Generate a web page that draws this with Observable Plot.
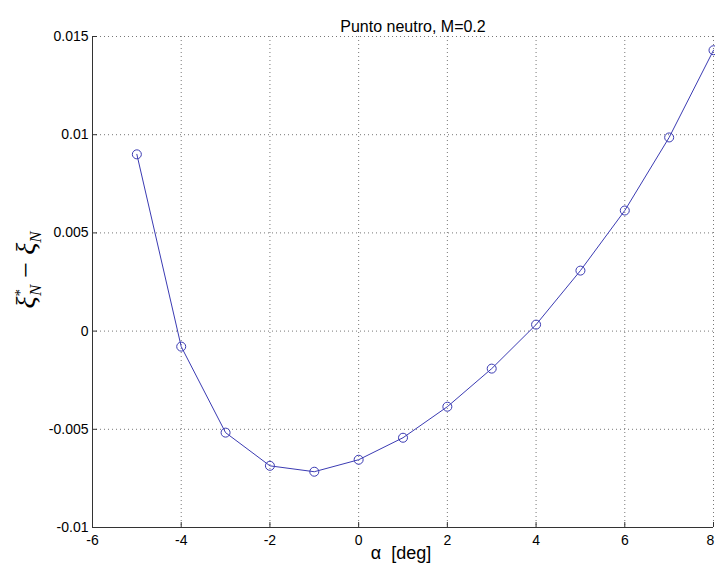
<!DOCTYPE html>
<html>
<head>
<meta charset="utf-8">
<script src="https://cdn.jsdelivr.net/npm/d3@7"></script>
<script src="https://cdn.jsdelivr.net/npm/@observablehq/plot@0.6"></script>
<style>
  html, body { margin: 0; padding: 0; background: #fff; }
  #chart svg { display: block; }
</style>
</head>
<body>
<div id="chart"></div>
<script>
const alphaDeg = [-5, -4, -3, -2, -1, 0, 1, 2, 3, 4, 5, 6, 7, 8];
const deltaXi = [0.0090, -0.00079, -0.00517, -0.00686, -0.00716, -0.00655, -0.00543, -0.00385, -0.00191, 0.00033, 0.00308, 0.00614, 0.00986, 0.0143];
const xTicks = [-6, -4, -2, 0, 2, 4, 6, 8];
const yTicks = [-0.01, -0.005, 0, 0.005, 0.01, 0.015];
const yTickLabels = ["-0.01", "-0.005", "0", "0.005", "0.01", "0.015"];
const titleText = "Punto neutro, M=0.2";
const xLabelText = "α  [deg]";

const data = alphaDeg.map((a, i) => ({a, v: deltaXi[i]}));
const blue = "#3b3bb3";
const font = "Liberation Sans, Arial, Helvetica, sans-serif";
const lastX = xTicks[xTicks.length - 1];

const chart = Plot.plot({
  width: 715,
  height: 573,
  marginLeft: 92,
  marginRight: 2,
  marginTop: 36,
  marginBottom: 46,
  style: {fontFamily: font, fontSize: "14px", color: "#000", background: "#fff"},
  x: {domain: [-6, 8]},
  y: {domain: [-0.01, 0.015]},
  marks: [
    Plot.gridX(xTicks, {stroke: "#777", strokeOpacity: 1, strokeDasharray: "1,3"}),
    Plot.gridY(yTicks, {stroke: "#777", strokeOpacity: 1, strokeDasharray: "1,3"}),
    Plot.ruleX([-6], {stroke: "#333"}),
    Plot.ruleY([-0.01], {stroke: "#333"}),
    Plot.axisX(xTicks, {tickSize: -5, tickPadding: 13, stroke: "#333", label: null, tickFormat: d => d === lastX ? "" : String(d), fontSize: 14, fill: "#000"}),
    Plot.axisX([lastX], {tickSize: 0, tickPadding: 8, label: null, tickFormat: d => String(d), fontSize: 14, fill: "#000", dx: -3}),
    Plot.axisY(yTicks, {tickSize: -5, tickPadding: 9, stroke: "#333", label: null, tickFormat: d => yTickLabels[yTicks.indexOf(d)], fontSize: 14, fill: "#000"}),
    Plot.line(data, {x: "a", y: "v", stroke: blue, strokeWidth: 1}),
    Plot.dot(data, {x: "a", y: "v", r: 4.5, stroke: blue, fill: "none", strokeWidth: 1}),
    Plot.text([titleText], {frameAnchor: "top", dx: 10, dy: -16, text: d => d, fontSize: 16, fill: "#000"}),
    Plot.text([xLabelText], {frameAnchor: "bottom", dx: -2, dy: 31, text: d => d, fontSize: 18, fill: "#000"})
  ]
});

// y-axis label: ξ*_N − ξ_N
const svg = d3.select(chart);
const lab = svg.append("text")
  .attr("transform", "translate(35,270) rotate(-90)")
  .attr("text-anchor", "middle")
  .attr("font-family", "Liberation Serif, Times New Roman, serif")
  .attr("font-size", 28)
  .attr("fill", "#000");
lab.append("tspan").attr("font-style", "italic").text("ξ");
lab.append("tspan").attr("font-size", 15).attr("dy", -10).text("*");
lab.append("tspan").attr("font-size", 17).attr("font-style", "italic").attr("dx", -7).attr("dy", 16).text("N");
lab.append("tspan").attr("dy", -6).text(" − ");
lab.append("tspan").attr("font-style", "italic").text("ξ");
lab.append("tspan").attr("font-size", 17).attr("font-style", "italic").attr("dy", 6).text("N");

document.getElementById("chart").appendChild(chart);
</script>
</body>
</html>
